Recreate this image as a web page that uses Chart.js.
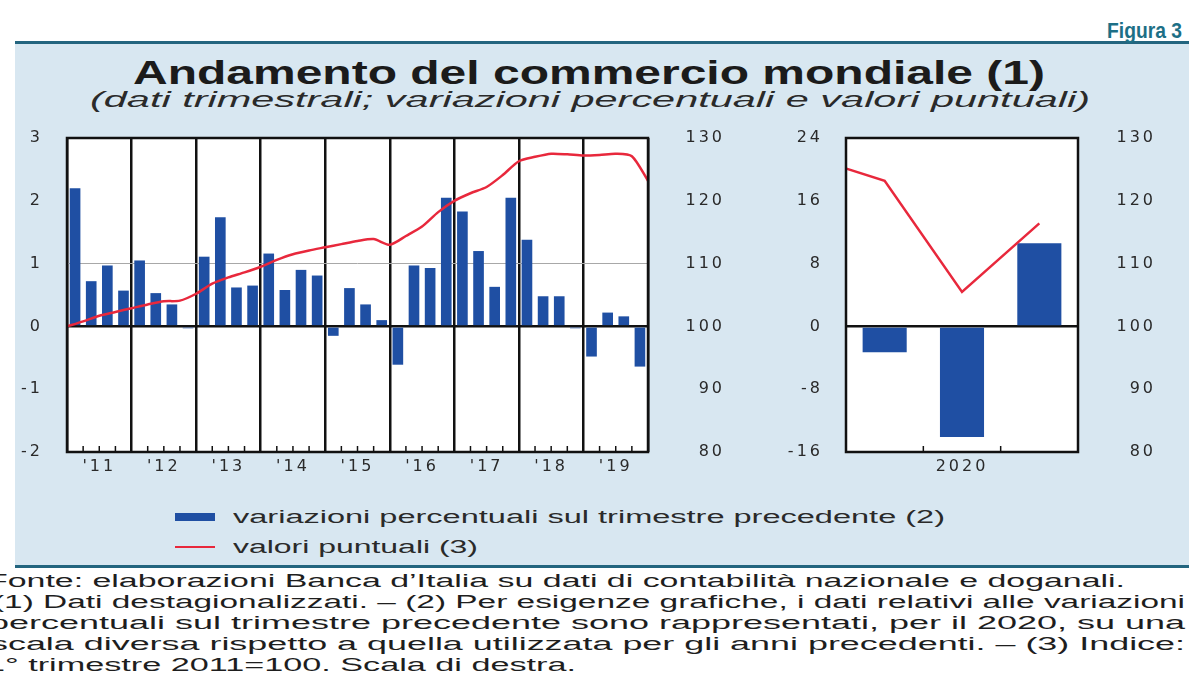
<!DOCTYPE html>
<html><head><meta charset="utf-8">
<script src="https://cdn.jsdelivr.net/npm/chart.js@4.4.1/dist/chart.umd.min.js"></script>
<style>
html,body{margin:0;padding:0;background:#fff;width:1189px;height:686px;overflow:hidden;position:relative;font-family:"Liberation Sans",Arial,sans-serif;}
.abs{position:absolute;white-space:nowrap;line-height:1;transform-origin:0 0;}
#panel{position:absolute;left:15px;top:41px;width:1174px;height:527px;background:#d8e7f1;border-top:3px solid #23657f;border-bottom:3px solid #23657f;box-sizing:border-box;}
#fig{font-weight:bold;font-size:22px;color:#1d6f86;left:1107px;top:20px;}
#title{font-weight:bold;font-size:33px;color:#1b1b1b;left:133px;top:56px;}
#sub{font-style:italic;font-size:22px;color:#2a2a2a;left:90px;top:89px;}
.leg{font-size:18px;color:#2a2a2a;left:233px;}
.sw{position:absolute;left:175px;width:40px;}
.fn{font-size:18px;color:#1e1e1e;}
canvas{position:absolute;}
</style></head>
<body>
<div id="panel"></div>
<div class="abs" id="fig" data-w="75">Figura 3</div>
<div class="abs" id="title" data-w="912">Andamento del commercio mondiale (1)</div>
<div class="abs" id="sub" data-w="1000">(dati trimestrali; variazioni percentuali e valori puntuali)</div>
<canvas id="c1" width="760" height="360" style="left:0;top:120px;width:760px;height:360px"></canvas>
<canvas id="c2" width="449" height="360" style="left:740px;top:120px;width:449px;height:360px"></canvas>
<div class="sw" style="top:513px;height:8px;background:#1f4fa3"></div>
<div class="sw" style="top:546px;height:2px;background:#e8283c"></div>
<div class="abs leg" id="l1" style="top:508px" data-w="712">variazioni percentuali sul trimestre precedente (2)</div>
<div class="abs leg" id="l2" style="top:538px" data-w="245">valori puntuali (3)</div>
<div class="abs fn" id="f1" style="left:-13px;top:572px" data-w="1138">Fonte: elaborazioni Banca d’Italia su dati di contabilità nazionale e doganali.</div>
<div class="abs fn" id="f2" style="left:-7px;top:593px" data-w="1192">(1) Dati destagionalizzati. – (2) Per esigenze grafiche, i dati relativi alle variazioni</div>
<div class="abs fn" id="f3" style="left:-11px;top:614px" data-w="1196">percentuali sul trimestre precedente sono rappresentati, per il 2020, su una</div>
<div class="abs fn" id="f4" style="left:-10px;top:635px" data-w="1195">scala diversa rispetto a quella utilizzata per gli anni precedenti. – (3) Indice:</div>
<div class="abs fn" id="f5" style="left:-14px;top:656px" data-w="590">1° trimestre 2011=100. Scala di destra.</div>
<script>
// ---- data ----
const quarterLabels = [];
for (let y = 2011; y <= 2019; y++) for (let q = 1; q <= 4; q++) quarterLabels.push(y + 'Q' + q);
const yearLabels = ["'11","'12","'13","'14","'15","'16","'17","'18","'19"];
const pctChange = [2.2,0.72,0.97,0.57, 1.05,0.53,0.35,-0.03, 1.11,1.74,0.62,0.65, 1.16,0.58,0.9,0.81,
  -0.15,0.61,0.35,0.1, -0.61,0.97,0.93,2.05, 1.83,1.2,0.63,2.05, 1.38,0.48,0.48,-0.03, -0.48,0.22,0.16,-0.64];
// index level 2011Q1 = 100, from 2011Q1 to 2020Q1
const indexLevel = [100,100.8,101.7,102.3,102.9,103.5,104.0,104.1,105.2,106.8,107.8,108.6,109.5,110.6,111.5,112.1,
  112.6,113.1,113.6,113.9,113.0,114.4,115.9,118.2,120.0,121.2,122.2,124.1,126.3,127.0,127.5,127.4,127.2,127.3,127.5,127.1,123.2];
const labels2020 = ['2020Q1','2020Q2','2020Q3'];
const pctChange2020 = [-3.3,-14.1,10.6];
// index level 2019Q4 .. 2020Q3
const indexLevel2020 = [127.1,123.2,105.5,116.4];
const yearLabel2020 = ['2020'];

const BLUE = '#1f4fa3', RED = '#e8283c';
const TICKFONT = {family:'"DejaVu Sans", Arial, sans-serif', size:16};
const TICKCOLOR = '#2a2a2a';
const CLEAR = 'rgba(0,0,0,0)';

const spacing = {
  id:'spacing',
  beforeUpdate(c){ c.ctx.letterSpacing = '3px'; },
  beforeDraw(c){ c.ctx.letterSpacing = '3px'; }
};
const frame = {
  id:'frame',
  beforeDraw(c){
    const a = c.chartArea, ctx = c.ctx;
    ctx.save(); ctx.fillStyle = '#fff'; ctx.fillRect(a.left, a.top, a.right-a.left, a.bottom-a.top); ctx.restore();
  },
  afterDraw(c, args, opts){
    const a = c.chartArea, ctx = c.ctx, xs = c.scales.x;
    ctx.save();
    ctx.strokeStyle = '#111'; ctx.lineWidth = 1.5;
    const n = xs.getLabels().length;
    for (let i = 1; i < n; i++) {
      if (opts.every && i % opts.every === 0) continue;
      const px = (xs.getPixelForValue(i-1) + xs.getPixelForValue(i)) / 2;
      ctx.beginPath(); ctx.moveTo(px, a.bottom); ctx.lineTo(px, a.bottom - 6); ctx.stroke();
    }
    ctx.lineWidth = 2.5; ctx.strokeStyle = '#111';
    ctx.strokeRect(a.left, a.top, a.right-a.left, a.bottom-a.top);
    ctx.restore();
  }
};
const fitW = w => function(s){ s.width = w; };
const fitH = h => function(s){ s.height = h; };

new Chart(document.getElementById('c1'), {
  data: {
    labels: quarterLabels,
    datasets: [
      {type:'line', label:'valori puntuali (3)', data: indexLevel.map((v,i)=>({x:i,y:v})), xAxisID:'xl', yAxisID:'y2',
       borderColor:RED, borderWidth:2.5, pointRadius:0, tension:0.25, order:0},
      {type:'bar', label:'variazioni percentuali sul trimestre precedente (2)', data: pctChange, xAxisID:'x', yAxisID:'y',
       backgroundColor:BLUE, barPercentage:0.66, categoryPercentage:1, grouped:false, order:1}
    ]
  },
  options: {
    responsive:false, animation:false, devicePixelRatio:1,
    layout:{padding:{top:18, right:35, left:0, bottom:0}},
    plugins:{legend:{display:false}, tooltip:{enabled:false}, frame:{every:4}},
    scales:{
      x:{type:'category', display:false, offset:true},
      xl:{type:'linear', display:false, min:0, max:36},
      xy:{type:'category', labels:yearLabels, position:'bottom', offset:true, afterFit:fitH(28),
          grid:{offset:true, color:'#111', lineWidth:2.5, drawTicks:false},
          border:{display:false},
          ticks:{font:TICKFONT, color:TICKCOLOR, padding:5, maxRotation:0, autoSkip:false}},
      y:{position:'left', min:-2, max:3, afterFit:fitW(67),
         ticks:{stepSize:1, font:TICKFONT, color:TICKCOLOR, padding:0},
         border:{display:false},
         grid:{drawTicks:true, tickLength:24, tickColor:CLEAR,
               color: c => c.tick.value === 0 ? '#111' : (c.tick.value === 1 ? '#a8a8a8' : CLEAR),
               lineWidth: c => c.tick.value === 0 ? 2.5 : 1}},
      y2:{position:'right', min:80, max:130, afterFit:fitW(77),
          ticks:{stepSize:10, font:TICKFONT, color:TICKCOLOR, crossAlign:'far', padding:0},
          border:{display:false}, grid:{display:false, drawTicks:false}}
    }
  },
  plugins:[spacing, frame]
});

new Chart(document.getElementById('c2'), {
  data: {
    labels: labels2020,
    datasets: [
      {type:'line', label:'valori puntuali (3)', data: indexLevel2020.map((v,i)=>({x:i-0.5,y:v})), xAxisID:'xl', yAxisID:'y2',
       borderColor:RED, borderWidth:2.5, pointRadius:0, tension:0, order:0},
      {type:'bar', label:'variazioni percentuali sul trimestre precedente (2)', data: pctChange2020, xAxisID:'x', yAxisID:'y',
       backgroundColor:BLUE, barPercentage:0.57, categoryPercentage:1, grouped:false, order:1}
    ]
  },
  options: {
    responsive:false, animation:false, devicePixelRatio:1,
    layout:{padding:{top:18, right:33, left:0, bottom:0}},
    plugins:{legend:{display:false}, tooltip:{enabled:false}, frame:{every:0}},
    scales:{
      x:{type:'category', display:false, offset:true},
      xl:{type:'linear', display:false, min:0, max:3},
      xy:{type:'category', labels:yearLabel2020, position:'bottom', offset:true, afterFit:fitH(28),
          grid:{display:false, drawTicks:false}, border:{display:false},
          ticks:{font:TICKFONT, color:TICKCOLOR, padding:5, maxRotation:0}},
      y:{position:'left', min:-16, max:24, afterFit:fitW(106),
         ticks:{stepSize:8, font:TICKFONT, color:TICKCOLOR, padding:0},
         border:{display:false},
         grid:{drawTicks:true, tickLength:23, tickColor:CLEAR,
               color: c => c.tick.value === 0 ? '#111' : CLEAR,
               lineWidth: c => c.tick.value === 0 ? 2.5 : 1}},
      y2:{position:'right', min:80, max:130, afterFit:fitW(78),
          ticks:{stepSize:10, font:TICKFONT, color:TICKCOLOR, crossAlign:'far', padding:0},
          border:{display:false}, grid:{display:false, drawTicks:false}}
    }
  },
  plugins:[spacing, frame]
});

// stretch text horizontally like the scanned original
document.querySelectorAll('[data-w]').forEach(el => {
  const w = el.getBoundingClientRect().width;
  el.style.transform = 'scaleX(' + (parseFloat(el.dataset.w) / w) + ')';
});
</script>
</body></html>
